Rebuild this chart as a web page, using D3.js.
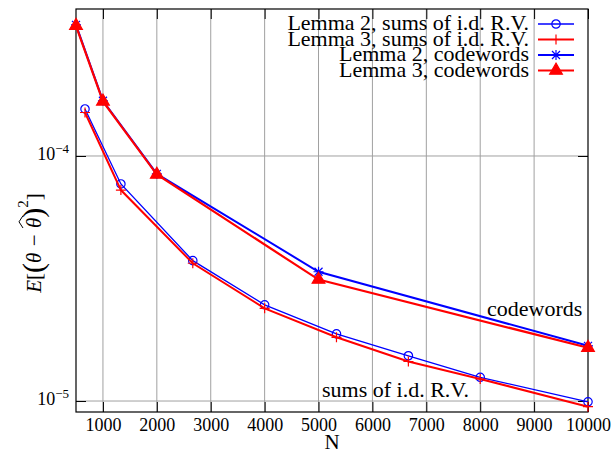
<!DOCTYPE html>
<html>
<head>
<meta charset="utf-8">
<script src="https://cdn.jsdelivr.net/npm/d3@7"></script>
<style>
  body { margin: 0; background: #fff; }
</style>
</head>
<body>
<div class="vis-chart"></div>
<script>
// data
const nCodewords = [500, 1000, 2000, 5000, 10000];
const lemma2Codewords = [3.43e-4, 1.68e-4, 8.45e-5, 3.37e-5, 1.68e-5];
const lemma3Codewords = [3.40e-4, 1.67e-4, 8.40e-5, 3.13e-5, 1.65e-5];
const nSums = [667, 1333, 2667, 4000, 5333, 6667, 8000, 10000];
const lemma2Sums = [1.556e-4, 7.69e-5, 3.74e-5, 2.47e-5, 1.88e-5, 1.53e-5, 1.25e-5, 9.93e-6];
const lemma3Sums = [1.505e-4, 7.26e-5, 3.65e-5, 2.39e-5, 1.82e-5, 1.45e-5, 1.23e-5, 9.48e-6];
const xTicks = [1000, 2000, 3000, 4000, 5000, 6000, 7000, 8000, 9000, 10000];
const yTicks = [1e-5, 1e-4];
const seriesNames = ["Lemma 2, sums of i.d. R.V.", "Lemma 3, sums of i.d. R.V.",
                     "Lemma 2, codewords", "Lemma 3, codewords"];

const W = 613, H = 454;
const pLeft = 76, pRight = 588, pTop = 9, pBottom = 412;
const FONT = 'Liberation Serif';

const svg = d3.select('.vis-chart').append('svg')
    .attr('width', W)
    .attr('height', H);

const x = d3.scaleLinear().domain([500, 10000]).range([pLeft, pRight]);
const y = d3.scaleLog().domain([9.02e-6, 3.98e-4]).range([pBottom, pTop]);

// grid
svg.append('g').selectAll('line')
    .data(xTicks.filter(d => d < 10000))
    .enter().append('line')
    .attr('x1', d => x(d)).attr('x2', d => x(d))
    .attr('y1', pTop).attr('y2', pBottom)
    .attr('stroke', '#a0a0a0').attr('stroke-width', 1);
svg.append('g').selectAll('line')
    .data(yTicks)
    .enter().append('line')
    .attr('x1', pLeft).attr('x2', pRight)
    .attr('y1', d => y(d)).attr('y2', d => y(d))
    .attr('stroke', '#a0a0a0').attr('stroke-width', 1);

// axes, ticks pointing inward
const tickLen = 10;
svg.append('g')
    .attr('transform', 'translate(0,' + pBottom + ')')
    .attr('font-family', FONT)
    .call(d3.axisBottom(x).tickValues(xTicks).tickFormat(d3.format('d'))
        .tickSizeInner(-tickLen).tickSizeOuter(0).tickPadding(6))
    .call(g => g.attr('font-family', FONT))
    .call(g => g.select('.domain').remove())
    .call(g => g.selectAll('text').attr('fill', '#000').attr('font-size', 18));
svg.append('g')
    .attr('transform', 'translate(0,' + pTop + ')')
    .call(d3.axisTop(x).tickValues(xTicks).tickSizeInner(-tickLen).tickSizeOuter(0).tickFormat(''))
    .call(g => g.select('.domain').remove());
svg.append('g')
    .attr('transform', 'translate(' + pLeft + ',0)')
    .call(d3.axisLeft(y).tickValues(yTicks).tickSizeInner(-tickLen).tickSizeOuter(0).tickFormat(''))
    .call(g => g.select('.domain').remove());
svg.append('g')
    .attr('transform', 'translate(' + pRight + ',0)')
    .call(d3.axisRight(y).tickValues(yTicks).tickSizeInner(-tickLen).tickSizeOuter(0).tickFormat(''))
    .call(g => g.select('.domain').remove());
svg.selectAll('.tick line').attr('stroke', '#000');

// y tick labels 10^-n
const yl = svg.append('g').selectAll('text')
    .data(yTicks)
    .enter().append('text')
    .attr('x', pLeft - 7)
    .attr('y', d => y(d) + 4)
    .attr('text-anchor', 'end')
    .attr('font-size', 18);
yl.append('tspan').text('10');
yl.append('tspan').attr('dy', -7).attr('font-size', 13)
    .text(d => '\u2212' + Math.round(-Math.log10(d)));

// frame
svg.append('rect')
    .attr('x', pLeft).attr('y', pTop)
    .attr('width', pRight - pLeft).attr('height', pBottom - pTop)
    .attr('fill', 'none').attr('stroke', '#000').attr('stroke-width', 1.2);

// axis titles
svg.append('text')
    .attr('x', 332).attr('y', 449)
    .attr('text-anchor', 'middle')
    .attr('font-size', 21)
    .attr('font-family', FONT)
    .text('N');

const ytG = svg.append('g').attr('transform', 'translate(41,243) rotate(-90)');
const yt = ytG.append('text')
    .attr('text-anchor', 'middle')
    .attr('font-size', 21)
    .attr('font-family', FONT);
yt.append('tspan').attr('font-style', 'italic').text('E');
yt.append('tspan').text('[');
yt.append('tspan').attr('font-size', 30).attr('dy', 2).text('(');
yt.append('tspan').attr('font-style', 'italic').attr('dy', -2).text('\u03b8 \u2212 ');
yt.append('tspan').attr('font-style', 'italic').text('\u03b8');
yt.append('tspan').attr('font-size', 30).attr('dy', 2).text(')');
yt.append('tspan').attr('dy', -15).attr('font-size', 15).text('2');
yt.append('tspan').attr('dy', 13).text(']');
// wide hat over the second theta
const ext = yt.node().getExtentOfChar(7);
ytG.append('path')
    .attr('d', 'M' + (ext.x) + ',' + (ext.y + 1) + 'L' + (ext.x + ext.width / 2 + 1) + ',' + (ext.y - 3)
        + 'L' + (ext.x + ext.width + 2) + ',' + (ext.y + 1))
    .attr('fill', 'none').attr('stroke', '#000').attr('stroke-width', 1);

// markers
const circleM = g => g.append('circle').attr('r', 4.2).attr('fill', 'none');
const plusM = g => g.append('path').attr('d', 'M-5,0H5M0,-5V5');
const starM = g => g.append('path').attr('d', 'M-5,0H5M0,-5V5M-4,-4L4,4M-4,4L4,-4');
const triM = g => g.append('path').attr('d', d3.symbol(d3.symbolTriangle, 70)());

const series = [
    { name: seriesNames[0], n: nSums, v: lemma2Sums, color: '#0000ff', lw: 1.3, marker: circleM },
    { name: seriesNames[1], n: nSums, v: lemma3Sums, color: '#ff0000', lw: 2, marker: plusM },
    { name: seriesNames[2], n: nCodewords, v: lemma2Codewords, color: '#0000ff', lw: 2, marker: starM },
    { name: seriesNames[3], n: nCodewords, v: lemma3Codewords, color: '#ff0000', lw: 2.2, marker: triM }
];

const line = d3.line().x(d => x(d[0])).y(d => y(d[1]));

series.forEach(s => {
    const pts = s.n.map((n, i) => [n, s.v[i]]);
    svg.append('path')
        .datum(pts)
        .attr('fill', 'none')
        .attr('stroke', s.color)
        .attr('stroke-width', s.lw)
        .attr('d', line);
    pts.forEach(p => {
        const g = svg.append('g')
            .attr('transform', 'translate(' + x(p[0]) + ',' + y(p[1]) + ')')
            .attr('stroke', s.color).attr('fill', s.color).attr('stroke-width', 1.2);
        s.marker(g);
    });
});

// legend
const legY = [24, 39.5, 55, 70.5];
series.forEach((s, i) => {
    svg.append('text')
        .attr('x', 529).attr('y', legY[i] + 6)
        .attr('text-anchor', 'end')
        .attr('font-size', 22)
        .text(s.name);
    svg.append('line')
        .attr('x1', 538).attr('x2', 574)
        .attr('y1', legY[i]).attr('y2', legY[i])
        .attr('stroke', s.color).attr('stroke-width', s.lw);
    const g = svg.append('g')
        .attr('transform', 'translate(556,' + legY[i] + ')')
        .attr('stroke', s.color).attr('fill', s.color).attr('stroke-width', 1.2);
    s.marker(g);
});

// annotations
svg.append('text')
    .attr('x', 487).attr('y', 316)
    .attr('font-size', 22)
    .text('codewords');
svg.append('text')
    .attr('x', 322).attr('y', 397)
    .attr('font-size', 22)
    .text('sums of i.d. R.V.');

// serif face on every label
svg.selectAll('text').attr('font-family', FONT);
</script>
</body>
</html>
